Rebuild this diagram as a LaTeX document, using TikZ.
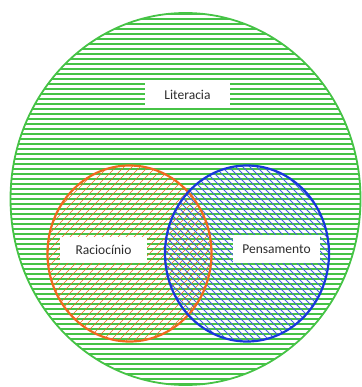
\documentclass[tikz,border=0pt]{standalone}
\usepackage{fontspec}
\setmainfont{Carlito}
\definecolor{lgreen}{RGB}{70,195,70}
\definecolor{lorange}{RGB}{240,105,30}
\definecolor{lblue}{RGB}{25,55,220}
\definecolor{txt}{RGB}{45,45,45}
\tikzset{
  lbl/.style={fill=white, draw=none, inner sep=0pt, text=txt, font=\fontsize{13.5}{16}\selectfont},
}
\begin{document}
\begin{tikzpicture}[x=1pt,y=-1pt]
\useasboundingbox (0,0) rectangle (361,387);
% green hatching
\begin{scope}
\clip (185.5,199) ellipse [x radius=175pt, y radius=186pt];
\foreach \y in {14,19,...,386} \draw[lgreen,line width=1.4pt] (0,\y) -- (361,\y);
\end{scope}
% orange hatching
\begin{scope}
\clip (129.5,253.5) ellipse [x radius=82pt, y radius=88pt];
\foreach \c in {-400,-392,...,400} \draw[lorange,line width=0.6pt] (\c,387) -- (\c+387,0);
\end{scope}
% blue hatching
\begin{scope}
\clip (247,253.5) ellipse [x radius=82pt, y radius=88pt];
\foreach \c in {-400,-393,...,400} \draw[lblue!80!white,line width=0.8pt] (\c,0) -- (\c+387,387);
\end{scope}
% outlines
\draw[lgreen,line width=1.8pt] (185.5,199) ellipse [x radius=175pt, y radius=186pt];
\draw[lorange,line width=2.2pt] (129.5,253.5) ellipse [x radius=82pt, y radius=88pt];
\draw[lblue,line width=2.2pt] (247,253.5) ellipse [x radius=82pt, y radius=88pt];
% labels
\node[lbl, minimum width=85pt, minimum height=24pt] (lit) at (187.5,95) {Literacia};
\node[lbl, minimum width=87pt, minimum height=26pt] (rac) at (103.5,250) {Raciocínio};
\node[lbl, minimum width=87pt, minimum height=28pt] (pen) at (276.5,249) {Pensamento};
\end{tikzpicture}
\end{document}
